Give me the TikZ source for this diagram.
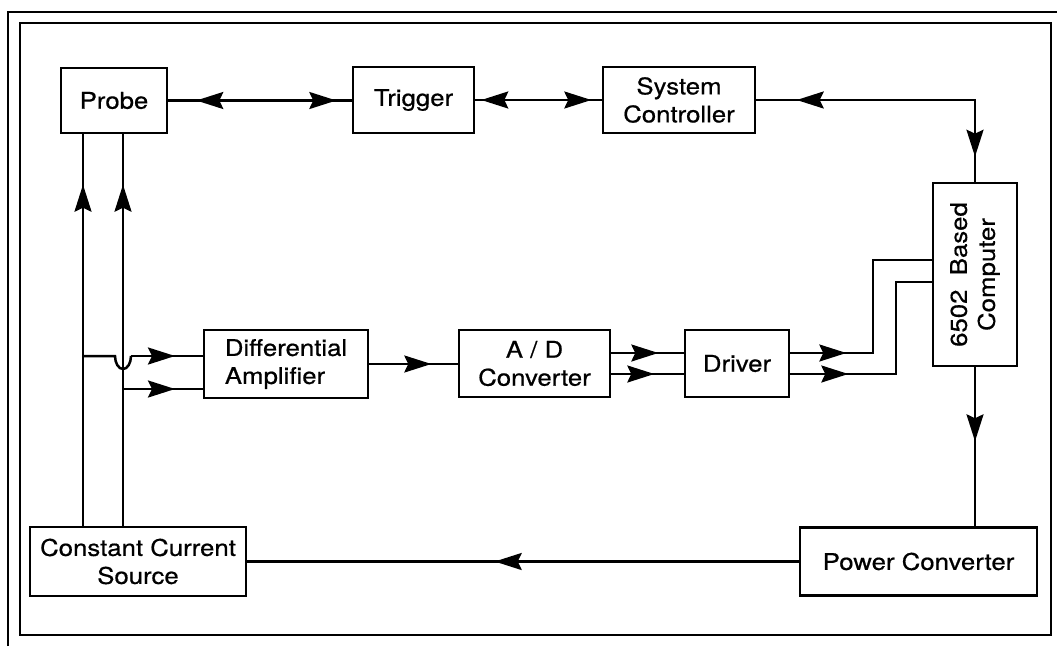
\documentclass[tikz,border=0pt]{standalone}
\usepackage{fontspec}
\setmainfont{TeX Gyre Heros}[FakeStretch=1.12,FakeBold=0.6]
\usetikzlibrary{arrows.meta,decorations.markings}
\tikzset{
  arr/.tip={Stealth[length=27pt,width=17pt,inset=4pt]},
  fw/.style={postaction={decorate,decoration={markings,mark=at position #1 with {\arrow{arr}}}}},
  bw/.style={postaction={decorate,decoration={markings,mark=at position #1 with {\arrowreversed{arr}}}}},
  blk/.style={draw,line width=2.6pt,inner sep=0pt,align=center,font=\fontsize{23}{28}\selectfont},
  wire/.style={line width=2.5pt},
  frame/.style={line width=2.6pt}
}
\begin{document}
\begin{tikzpicture}[x=1pt,y=-1pt]
\useasboundingbox (0,0) rectangle (1057,646);
% frames
\draw[frame] (20,23) rectangle (1051,635);
\draw[frame] (8,646) -- (8,12) -- (1057,12);
% blocks
\node[blk,minimum width=106,minimum height=65] (probe) at (114,100.5) {Probe};
\node[blk,minimum width=121,minimum height=66] (trig) at (413.5,100) {Trigger};
\node[blk,minimum width=152,minimum height=66] (sc) at (679,100) {System\\Controller};
\node[blk,minimum width=84,minimum height=183] (comp) at (975,274.5) {};
\node[rotate=90,align=center,inner sep=0pt,font=\fontsize{23}{28}\selectfont] (compt) at (comp.center) {6502\ \ Based\\Computer};
\node[blk,align=left,minimum width=164,minimum height=68] (da) at (286,364) {Differential\\Amplifier};
\node[blk,minimum width=151,minimum height=67] (ad) at (534.5,363.5) {A / D\\Converter};
\node[blk,minimum width=104,minimum height=67] (drv) at (737,363.5) {Driver};
\node[blk,minimum width=216,minimum height=69] (ccs) at (138,561.5) {Constant Current\\Source};
\node[blk,minimum width=237,minimum height=68] (pc) at (918.5,561.5) {Power Converter};
% helper coordinates
\coordinate (w1) at (83,0);
\coordinate (w2) at (123,0);
\coordinate (j1) at (83,356);
\coordinate (u1) at (115,356);
\coordinate (u2) at (131,356);
\coordinate (j2) at (123,389);
\coordinate (yA) at (0,353);
\coordinate (yB) at (0,374);
\coordinate (k1) at (873,260);
\coordinate (k2) at (896,282);
% top row
\draw[wire,bw=28pt,fw=168pt] (probe.east) -- (probe.east -| trig.west);
\draw[wire,bw=6pt,fw=116pt] (trig.east) -- (trig.east -| sc.west);
\draw[wire,bw=25pt,fw=260pt] (comp.north) |- (sc.east);
% right and bottom
\draw[wire,fw=74pt] (comp.south) -- (comp.south |- pc.north);
\draw[wire,fw=304pt] (pc.west) -- (pc.west -| ccs.east);
% left wires
\draw[wire,fw=341pt] (w1 |- ccs.north) -- (w1 |- probe.south);
\draw[wire,fw=341pt] (w2 |- ccs.north) -- (w2 |- probe.south);
\draw[wire] (j1) -- (u1) arc[start angle=180,end angle=0,x radius=8,y radius=13];
\draw[wire,fw=44pt] (u2) -- (u2 -| da.west);
\draw[wire,fw=52pt] (j2) -- (j2 -| da.west);
% middle row
\draw[wire,fw=62pt] (da.east) -- (da.east -| ad.west);
\draw[wire,fw=47pt] (ad.east |- yA) -- (drv.west |- yA);
\draw[wire,fw=43pt] (ad.east |- yB) -- (drv.west |- yB);
\draw[wire,fw=56pt] (drv.east |- yA) -| (k1) -- (k1 -| comp.west);
\draw[wire,fw=58pt] (drv.east |- yB) -| (k2) -- (k2 -| comp.west);
\end{tikzpicture}
\end{document}
